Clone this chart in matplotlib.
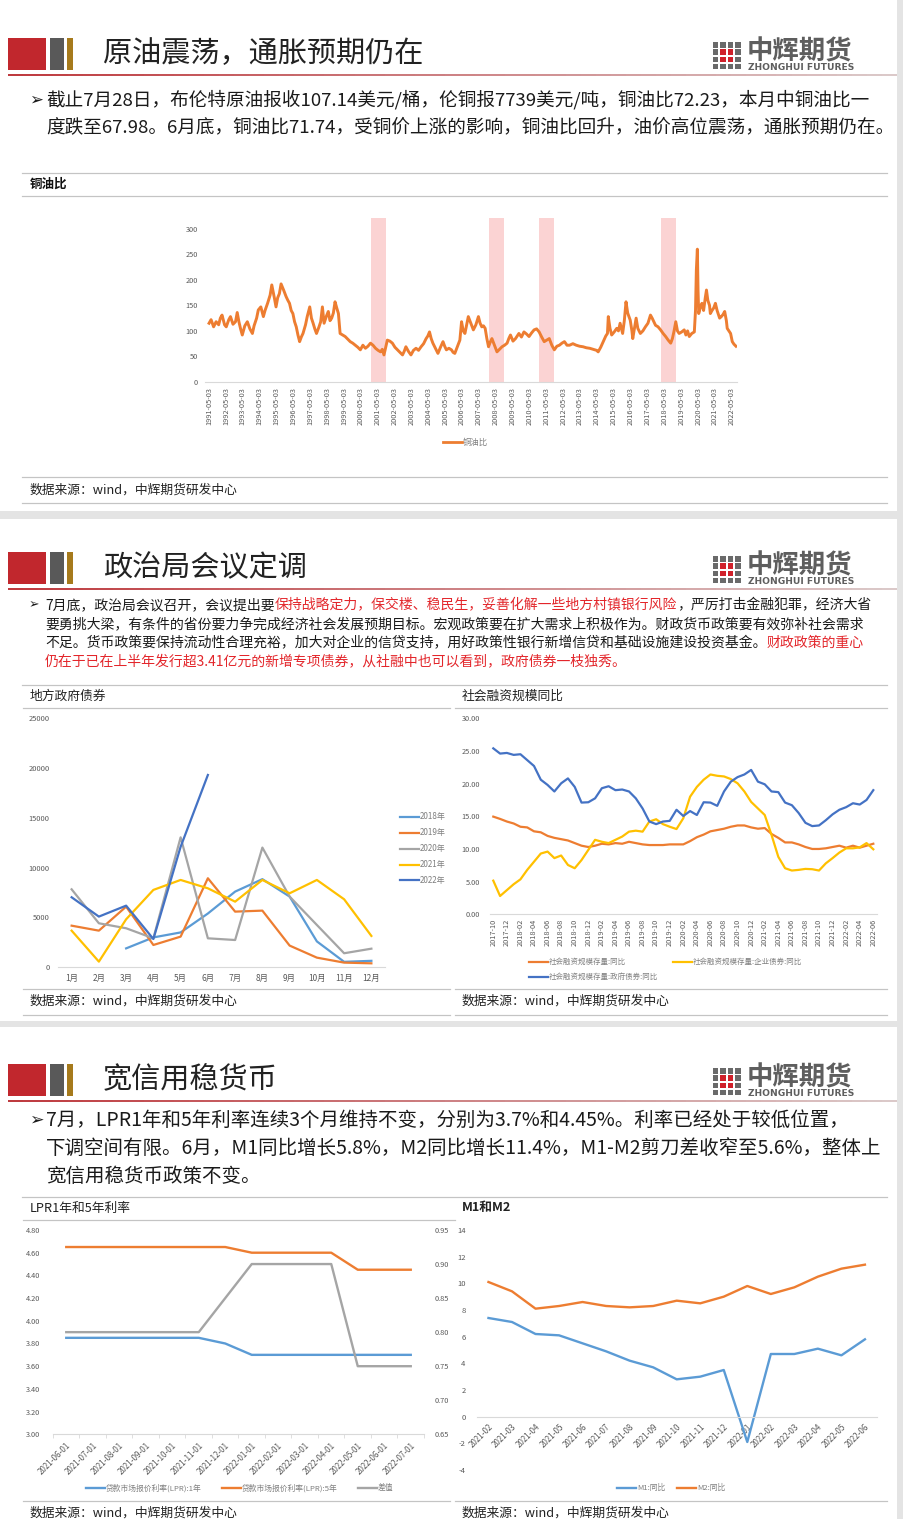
import matplotlib
matplotlib.use('Agg')
import matplotlib.pyplot as plt
import numpy as np
import pandas as pd
from matplotlib.patches import Rectangle
from matplotlib.collections import LineCollection
from matplotlib.lines import Line2D
from matplotlib.ticker import FixedLocator
from matplotlib.colors import to_rgb

plt.rcParams['font.family'] = ['Noto Sans CJK SC', 'DejaVu Sans']
plt.rcParams['axes.unicode_minus'] = False

# ---------------- data ----------------
# 铜油比 (decimal year, value)
cuoil_year = [1991.33, 1991.45, 1991.6, 1991.75, 1991.9, 1992.0, 1992.1, 1992.25, 1992.35, 1992.5,
              1992.6, 1992.75, 1992.9, 1993.0, 1993.1, 1993.2, 1993.3, 1993.45, 1993.6, 1993.75,
              1993.9, 1994.0, 1994.15, 1994.25, 1994.4, 1994.55, 1994.65, 1994.8, 1994.95, 1995.05,
              1995.2, 1995.3, 1995.4, 1995.5, 1995.6, 1995.75, 1995.9, 1996.0, 1996.1, 1996.2,
              1996.3, 1996.4, 1996.5, 1996.6, 1996.7, 1996.8, 1996.9, 1997.05, 1997.15, 1997.3,
              1997.4, 1997.5, 1997.6, 1997.7, 1997.85, 1997.95, 1998.05, 1998.15, 1998.3, 1998.4,
              1998.5, 1998.6, 1998.7, 1998.8, 1998.9, 1999.0, 1999.1, 1999.25, 1999.4, 1999.55,
              1999.7, 1999.85, 2000.0, 2000.15, 2000.3, 2000.45, 2000.6, 2000.75, 2000.9, 2001.05,
              2001.2, 2001.35, 2001.5, 2001.6, 2001.7, 2001.8, 2001.9, 2002.05, 2002.2, 2002.35,
              2002.5, 2002.65, 2002.8, 2002.9, 2003.0, 2003.15, 2003.3, 2003.45, 2003.6, 2003.75,
              2003.9, 2004.05, 2004.2, 2004.3, 2004.4, 2004.5, 2004.6, 2004.75, 2004.9, 2005.05,
              2005.2, 2005.3, 2005.4, 2005.55, 2005.7, 2005.8, 2005.9, 2006.05, 2006.2, 2006.3,
              2006.4, 2006.5, 2006.6, 2006.7, 2006.85, 2007.0, 2007.15, 2007.3, 2007.4, 2007.5,
              2007.6, 2007.7, 2007.8, 2007.9, 2008.0, 2008.1, 2008.25, 2008.4, 2008.55, 2008.7,
              2008.85, 2009.0, 2009.1, 2009.2, 2009.35, 2009.5, 2009.6, 2009.7, 2009.85, 2010.0,
              2010.15, 2010.3, 2010.45, 2010.6, 2010.75, 2010.9, 2011.05, 2011.2, 2011.35, 2011.5,
              2011.65, 2011.8, 2011.95, 2012.1, 2012.25, 2012.4, 2012.55, 2012.7, 2012.9, 2013.1,
              2013.3, 2013.5, 2013.7, 2013.9, 2014.1, 2014.3, 2014.4, 2014.55, 2014.7, 2014.85,
              2014.95, 2015.0, 2015.1, 2015.2, 2015.35, 2015.5, 2015.6, 2015.7, 2015.85, 2015.95,
              2016.05, 2016.15, 2016.3, 2016.4, 2016.45, 2016.55, 2016.65, 2016.75, 2016.9, 2017.05,
              2017.2, 2017.35, 2017.5, 2017.6, 2017.7, 2017.8, 2017.95, 2018.1, 2018.25, 2018.4,
              2018.55, 2018.7, 2018.8, 2018.9, 2019.0, 2019.1, 2019.2, 2019.35, 2019.5, 2019.6,
              2019.7, 2019.8, 2019.95, 2020.1, 2020.17, 2020.22, 2020.28, 2020.32, 2020.36, 2020.45,
              2020.55, 2020.65, 2020.75, 2020.82, 2020.9, 2021.0, 2021.05, 2021.15, 2021.25, 2021.35,
              2021.45, 2021.55, 2021.6, 2021.7, 2021.8, 2021.9, 2022.0, 2022.05, 2022.15, 2022.25,
              2022.35, 2022.45, 2022.57]
cuoil_val = [115, 122, 108, 118, 112, 125, 131, 112, 108, 122,
             128, 113, 118, 136, 118, 104, 92, 110, 118, 104,
             95, 110, 125, 141, 147, 128, 140, 154, 170, 190,
             165, 147, 165, 173, 192, 180, 167, 160, 154, 140,
             134, 118, 108, 92, 79, 88, 95, 112, 128, 147,
             125, 115, 104, 95, 108, 118, 147, 115, 130, 138,
             120, 125, 135, 157, 145, 134, 95, 92, 89, 84,
             79, 76, 72, 68, 63, 72, 66, 70, 76, 72,
             66, 62, 59, 64, 53, 68, 82, 80, 76, 68,
             63, 58, 53, 60, 69, 60, 53, 62, 66, 62,
             69, 75, 85, 90, 98, 85, 76, 66, 56, 68,
             79, 70, 63, 66, 63, 58, 56, 69, 82, 118,
             100, 95, 112, 128, 115, 102, 112, 128, 115, 108,
             110, 105, 85, 69, 78, 85, 72, 59, 64, 69,
             72, 76, 85, 92, 80, 85, 90, 95, 88, 98,
             94, 89, 96, 102, 104, 98, 88, 79, 82, 85,
             72, 63, 70, 72, 76, 79, 72, 72, 75, 72,
             70, 69, 67, 66, 64, 62, 59, 68, 79, 90,
             95, 128, 105, 92, 98, 105, 100, 115, 95, 120,
             157, 135, 121, 100, 85, 105, 125, 105, 95, 100,
             108, 115, 131, 125, 118, 111, 108, 102, 95, 89,
             82, 76, 85, 100, 118, 100, 95, 98, 102, 92,
             100, 89, 95, 98, 140, 219, 260, 180, 134, 145,
             154, 140, 165, 180, 160, 150, 134, 140, 145, 154,
             140, 130, 125, 128, 132, 138, 120, 105, 100, 95,
             79, 74, 70]
cuoil_bands = [(2000.96, 2001.85), (2007.9, 2008.8), (2010.9, 2011.8), (2018.1, 2019.0)]
cuoil_tick_years = list(range(1991, 2023))

# 地方政府债券 (亿元)
months = ['1月', '2月', '3月', '4月', '5月', '6月', '7月', '8月', '9月', '10月', '11月', '12月']
bond_2018 = [np.nan, np.nan, 1900, 3000, 3500, 5400, 7600, 8850, 7100, 2600, 550, 650]
bond_2019 = [4180, 3680, 6090, 2240, 3080, 8940, 5590, 5690, 2180, 970, 470, 400]
bond_2020 = [7830, 4420, 3920, 2910, 13050, 2910, 2740, 12020, 7100, 4250, 1410, 1870]
bond_2021 = [3680, 570, 4820, 7770, 8770, 7930, 6590, 8770, 7430, 8770, 6830, 3150]
bond_2022 = [7030, 5090, 6190, 2840, 12100, 19310, np.nan, np.nan, np.nan, np.nan, np.nan, np.nan]

# 社会融资规模同比 (2017-10 .. 2022-06)
tsf_months = pd.period_range('2017-10', '2022-06', freq='M').strftime('%Y-%m').tolist()
tsf_total = [14.95, 14.6, 14.2, 13.9, 13.4, 13.3, 12.7, 12.55, 12.0, 11.7,
             11.5, 11.3, 10.9, 10.5, 10.3, 10.5, 10.8, 10.7, 10.9, 10.8,
             11.1, 10.9, 10.7, 10.6, 10.6, 10.6, 10.7, 10.7, 10.7, 11.2,
             11.8, 12.2, 12.7, 12.9, 13.1, 13.4, 13.6, 13.6, 13.3, 13.1,
             13.2, 12.3, 11.7, 11.0, 11.0, 10.7, 10.3, 10.0, 10.0, 10.1,
             10.3, 10.5, 10.2, 10.5, 10.2, 10.5, 10.8]
tsf_corp = [5.15, 2.8, 3.7, 4.6, 5.35, 6.8, 8.05, 9.3, 9.6, 8.6,
            9.0, 7.55, 7.05, 8.3, 9.85, 11.4, 11.1, 10.9, 11.4, 11.9,
            12.65, 12.8, 12.65, 14.2, 14.55, 13.8, 13.4, 13.05, 14.7, 18.0,
            19.5, 20.6, 21.4, 21.2, 21.1, 20.7, 20.05, 18.8, 17.2, 16.2,
            15.2, 12.15, 8.8, 7.05, 6.7, 6.8, 6.95, 6.9, 6.7, 7.8,
            8.6, 9.45, 10.1, 10.1, 10.25, 10.9, 9.95]
tsf_gov = [25.4, 24.6, 24.7, 24.4, 24.5, 23.6, 22.7, 20.6, 19.8, 18.8,
           20.05, 20.8, 19.5, 17.1, 17.15, 17.75, 19.3, 19.6, 19.0, 19.1,
           18.8, 17.75, 16.2, 14.2, 13.8, 14.2, 14.3, 16.0, 15.05, 15.8,
           15.2, 17.15, 17.1, 16.6, 18.8, 20.3, 21.0, 21.4, 22.1, 20.3,
           19.9, 18.8, 18.7, 17.1, 16.7, 15.5, 14.0, 13.5, 13.6, 14.4,
           15.3, 16.0, 16.4, 17.0, 16.8, 17.5, 19.0]

# LPR
lpr_dates = pd.period_range('2021-06', '2022-07', freq='M').strftime('%Y-%m-01').tolist()
lpr_1y = [3.85, 3.85, 3.85, 3.85, 3.85, 3.85, 3.80, 3.70, 3.70, 3.70, 3.70, 3.70, 3.70, 3.70]
lpr_5y = [4.65, 4.65, 4.65, 4.65, 4.65, 4.65, 4.65, 4.60, 4.60, 4.60, 4.60, 4.45, 4.45, 4.45]
lpr_diff = [0.80, 0.80, 0.80, 0.80, 0.80, 0.80, 0.85, 0.90, 0.90, 0.90, 0.90, 0.75, 0.75, 0.75]

# M1 / M2
m_months = pd.period_range('2021-02', '2022-06', freq='M').strftime('%Y-%m').tolist()
m1_yoy = [7.4, 7.1, 6.2, 6.1, 5.5, 4.9, 4.2, 3.7, 2.8, 3.0, 3.5, -1.9, 4.7, 4.7, 5.1, 4.6, 5.8]
m2_yoy = [10.1, 9.4, 8.1, 8.3, 8.6, 8.3, 8.2, 8.3, 8.7, 8.5, 9.0, 9.8, 9.2, 9.7, 10.5, 11.1, 11.4]

# ---------------- layout helpers ----------------
W, H = 904, 1519
fig = plt.figure(figsize=(W / 100, H / 100), dpi=100)
fig.patch.set_facecolor('#e4e4e4')
renderer = fig.canvas.get_renderer()

BLUE, ORANGE, GRAY, YELLOW, DBLUE = '#5B9BD5', '#ED7D31', '#A5A5A5', '#FFC000', '#4472C4'
TICK = '#595959'
RED = '#e3262b'


def fx(x):
    return x / W


def fy(y):
    return 1 - y / H


def box(x0, y0, x1, y1):
    return [x0 / W, 1 - y1 / H, (x1 - x0) / W, (y1 - y0) / H]


def rect(x0, y0, x1, y1, color, z=0):
    fig.add_artist(Rectangle((fx(x0), fy(y1)), (x1 - x0) / W, (y1 - y0) / H,
                             transform=fig.transFigure, facecolor=color,
                             edgecolor='none', zorder=z))


def hline(y, x0, x1, color='#c4c4c4', lw=1.2):
    fig.add_artist(Line2D([fx(x0), fx(x1)], [fy(y), fy(y)], color=color,
                          lw=lw * 0.72, transform=fig.transFigure))


def txt(x, y, s, size, color='#1a1a1a', **kw):
    return fig.text(fx(x), fy(y), s, fontsize=size, color=color, va='center', **kw)


def rich(x, y, parts, size):
    for s, c in parts:
        t = txt(x, y, s, size, c)
        x += t.get_window_extent(renderer).width


def legend_item(x, y, color, label, size=5.5, lw=2.0):
    fig.add_artist(Line2D([fx(x), fx(x + 19)], [fy(y), fy(y)], color=color,
                          lw=lw, transform=fig.transFigure))
    txt(x + 20, y, label, size, '#7f7f7f')


def header(ytop, title):
    rect(8, ytop, 46, ytop + 32, '#c1272d', 2)
    rect(50, ytop, 64, ytop + 32, '#595959', 2)
    rect(67, ytop, 73, ytop + 32, '#a67a1c', 2)
    txt(103, ytop + 16, title, 21, '#222222')
    # logo icon: 4x4 squares, red centre
    for r in range(4):
        for c in range(4):
            col = '#d0202a' if (c in (1, 2) and r in (1, 2)) else '#6a6a6a'
            x0 = 713 + c * 7.5
            y0 = ytop + 4 + r * 7.3
            rect(x0, y0, x0 + 5.5, y0 + 5.5, col, 2)
    txt(747, ytop + 14, '中辉期货', 19, '#5e5e5e', fontweight='bold')
    txt(748, ytop + 30, 'ZHONGHUI FUTURES', 6.6, '#5e5e5e', fontweight='bold',
        family=['DejaVu Sans'])
    # gradient underline
    xs = np.linspace(8, 897, 60)
    c0, c1 = np.array(to_rgb('#b8262b')), np.array(to_rgb('#d8c4c4'))
    segs, cols = [], []
    for i in range(len(xs) - 1):
        segs.append([(fx(xs[i]), fy(ytop + 37)), (fx(xs[i + 1]), fy(ytop + 37))])
        f = i / (len(xs) - 2)
        cols.append(c0 * (1 - f) + c1 * f)
    fig.add_artist(LineCollection(segs, colors=cols, linewidths=1.3,
                                  transform=fig.transFigure))


def style_axes(ax, size):
    for s in ['top', 'right', 'left']:
        ax.spines[s].set_visible(False)
    ax.spines['bottom'].set_color('#d9d9d9')
    ax.tick_params(length=0, colors=TICK, labelsize=size)
    ax.set_facecolor('none')


# ---------------- panels ----------------
rect(0, 0, 897, 511, 'white')
rect(0, 519, 897, 1021, 'white')
rect(0, 1027, 897, 1519, 'white')

SRC = '数据来源：wind，中辉期货研发中心'

# ===== panel 1 =====
header(38, '原油震荡，通胀预期仍在')
rich(29, 100, [('➢', '#1a1a1a')], 12)
rich(46, 100, [('截止7月28日，布伦特原油报收107.14美元/桶，伦铜报7739美元/吨，铜油比72.23，本月中铜油比一', '#1a1a1a')], 13.4)
rich(46, 127, [('度跌至67.98。6月底，铜油比71.74，受铜价上涨的影响，铜油比回升，油价高位震荡，通胀预期仍在。', '#1a1a1a')], 13.4)

hline(173, 22, 887)
hline(196, 22, 887)
txt(30, 184, '铜油比', 9, '#111111', fontweight='bold')
hline(477, 22, 887)
txt(30, 490, SRC, 9.2, '#222222')
hline(503, 22, 887)

ax1 = fig.add_axes(box(205, 218, 737, 382))
style_axes(ax1, 5.3)
for a, b in cuoil_bands:
    ax1.axvspan(a, b, color='#fbd3d3', lw=0, zorder=0)
ax1.plot(cuoil_year, cuoil_val, color=ORANGE, lw=2.1, zorder=2)
ax1.set_xlim(1991.09, 2022.63)
ax1.set_ylim(0, 321)
ax1.set_yticks(range(0, 301, 50))
ax1.set_xticks([y + 0.33 for y in cuoil_tick_years])
ax1.set_xticklabels([f'{y}-05-03' for y in cuoil_tick_years], rotation=90)
ax1.tick_params(axis='x', pad=4)
ax1.tick_params(axis='y', pad=5)
legend_item(443, 442, ORANGE, '铜油比', 6)

# ===== panel 2 =====
header(552, '政治局会议定调')
P = 10
rich(29, 605, [('➢', '#1a1a1a')], 9)
rich(45, 605, [('7月底，政治局会议召开，会议提出要', '#1a1a1a'),
               ('保持战略定力，保交楼、稳民生，妥善化解一些地方村镇银行风险', RED),
               ('，严厉打击金融犯罪，经济大省', '#1a1a1a')], P)
rich(45, 624, [('要勇挑大梁，有条件的省份要力争完成经济社会发展预期目标。宏观政策要在扩大需求上积极作为。财政货币政策要有效弥补社会需求', '#1a1a1a')], P)
rich(45, 643, [('不足。货币政策要保持流动性合理充裕，加大对企业的信贷支持，用好政策性银行新增信贷和基础设施建设投资基金。', '#1a1a1a'),
               ('财政政策的重心', RED)], P)
rich(45, 661, [('仍在于已在上半年发行超3.41亿元的新增专项债券，从社融中也可以看到，政府债券一枝独秀。', RED)], P)

hline(685, 22, 887)
hline(708, 23, 450)
hline(708, 455, 887)
txt(30, 696, '地方政府债券', 9.2, '#222222')
txt(462, 696, '社会融资规模同比', 9.2, '#222222')
hline(989, 23, 450)
hline(989, 455, 887)
txt(30, 1001, SRC, 9.2, '#222222')
txt(462, 1001, SRC, 9.2, '#222222')
hline(1015, 23, 450)
hline(1015, 455, 887)

ax2 = fig.add_axes(box(58, 718.3, 385, 967.3))
style_axes(ax2, 5.4)
xm = np.arange(12)
for vals, col, lab in [(bond_2018, BLUE, '2018年'), (bond_2019, ORANGE, '2019年'),
                       (bond_2020, GRAY, '2020年'), (bond_2021, YELLOW, '2021年'),
                       (bond_2022, DBLUE, '2022年')]:
    ax2.plot(xm, vals, color=col, lw=1.6)
ax2.set_xlim(-0.5, 11.5)
ax2.set_ylim(0, 25000)
ax2.set_yticks(range(0, 25001, 5000))
ax2.set_xticks(xm)
ax2.set_xticklabels(months, fontsize=6)
ax2.tick_params(axis='y', pad=6)
ax2.tick_params(axis='x', pad=5)
for lab, col, yy in [('2018年', BLUE, 817), ('2019年', ORANGE, 833), ('2020年', GRAY, 849),
                     ('2021年', YELLOW, 864.5), ('2022年', DBLUE, 880)]:
    legend_item(400, yy, col, lab, 5.8, 1.6)

ax3 = fig.add_axes(box(489.9, 718.3, 876.7, 914.3))
style_axes(ax3, 5.3)
xt = np.arange(len(tsf_months))
ax3.plot(xt, tsf_total, color=ORANGE, lw=1.6)
ax3.plot(xt, tsf_corp, color=YELLOW, lw=1.6)
ax3.plot(xt, tsf_gov, color=DBLUE, lw=1.6)
ax3.set_xlim(-0.5, len(tsf_months) - 0.5)
ax3.set_ylim(0, 30)
ax3.set_yticks(range(0, 31, 5))
ax3.set_yticklabels([f'{v:.2f}' for v in range(0, 31, 5)])
ax3.set_xticks(xt[::2])
ax3.set_xticklabels(tsf_months[::2], rotation=90)
ax3.tick_params(axis='y', pad=7)
ax3.tick_params(axis='x', pad=3)
legend_item(529, 962, ORANGE, '社会融资规模存量:同比', 5.4, 1.6)
legend_item(673, 962, YELLOW, '社会融资规模存量:企业债券:同比', 5.4, 1.6)
legend_item(529, 977, DBLUE, '社会融资规模存量:政府债券:同比', 5.4, 1.6)

# ===== panel 3 =====
header(1064, '宽信用稳货币')
Q = 14
rich(29, 1120, [('➢', '#1a1a1a')], 12.5)
rich(46, 1120, [('7月，LPR1年和5年利率连续3个月维持不变，分别为3.7%和4.45%。利率已经处于较低位置，', '#1a1a1a')], Q)
rich(46, 1148, [('下调空间有限。6月，M1同比增长5.8%，M2同比增长11.4%，M1-M2剪刀差收窄至5.6%，整体上', '#1a1a1a')], Q)
rich(46, 1176, [('宽信用稳货币政策不变。', '#1a1a1a')], Q)

hline(1197, 22, 887)
hline(1220, 23, 455)
txt(30, 1208, 'LPR1年和5年利率', 9.2, '#222222')
txt(462, 1208, 'M1和M2', 9.2, '#222222', fontweight='bold')
hline(1501, 23, 450)
hline(1501, 455, 887)
txt(30, 1513, SRC, 9.2, '#222222')
txt(462, 1513, SRC, 9.2, '#222222')

ax4 = fig.add_axes(box(53, 1230, 424, 1434.3))
style_axes(ax4, 5.3)
xl = np.arange(len(lpr_dates))
ax4.plot(xl, lpr_1y, color=BLUE, lw=1.7)
ax4.plot(xl, lpr_5y, color=ORANGE, lw=1.7)
ax4.set_xlim(-0.5, len(lpr_dates) - 0.5)
ax4.set_ylim(3.0, 4.8)
ax4.set_yticks(np.arange(3.0, 4.81, 0.2))
ax4.set_yticklabels([f'{v:.2f}' for v in np.arange(3.0, 4.81, 0.2)])
ax4.set_xticks(xl)
ax4.set_xticklabels(lpr_dates, rotation=45, ha='right', rotation_mode='anchor', fontsize=5.8)
ax4.xaxis.set_minor_locator(FixedLocator(np.arange(-0.5, len(lpr_dates), 1)))
ax4.tick_params(axis='x', which='minor', length=3, color='#d9d9d9')
ax4.tick_params(axis='y', pad=9)
ax4.tick_params(axis='x', pad=5)
ax4b = ax4.twinx()
ax4b.plot(xl, lpr_diff, color=GRAY, lw=1.7)
ax4b.set_ylim(0.65, 0.95)
ax4b.set_yticks(np.arange(0.65, 0.951, 0.05))
ax4b.set_yticklabels([f'{v:.2f}' for v in np.arange(0.65, 0.951, 0.05)])
for s in ['top', 'right', 'left', 'bottom']:
    ax4b.spines[s].set_visible(False)
ax4b.tick_params(length=0, colors=TICK, labelsize=5.3, pad=8)
legend_item(86, 1488, BLUE, '贷款市场报价利率(LPR):1年', 5.6, 1.7)
legend_item(222, 1488, ORANGE, '贷款市场报价利率(LPR):5年', 5.6, 1.7)
legend_item(358, 1488, GRAY, '差值', 5.6, 1.7)

ax5 = fig.add_axes(box(476.7, 1230, 876.7, 1470))
style_axes(ax5, 5.5)
xmm = np.arange(len(m_months))
ax5.plot(xmm, m1_yoy, color=BLUE, lw=1.7)
ax5.plot(xmm, m2_yoy, color=ORANGE, lw=1.7)
ax5.set_xlim(-0.5, len(m_months) - 0.5)
ax5.set_ylim(-4, 14)
ax5.set_yticks(range(-4, 15, 2))
ax5.spines['bottom'].set_position(('data', 0))
ax5.set_xticks(xmm)
ax5.set_xticklabels(m_months, rotation=45, ha='right', rotation_mode='anchor', fontsize=5.8)
ax5.tick_params(axis='y', pad=8)
ax5.tick_params(axis='x', pad=4)
legend_item(617, 1488, BLUE, 'M1:同比', 5.6, 1.7)
legend_item(677, 1488, ORANGE, 'M2:同比', 5.6, 1.7)

fig.savefig('out.png', dpi=100)
